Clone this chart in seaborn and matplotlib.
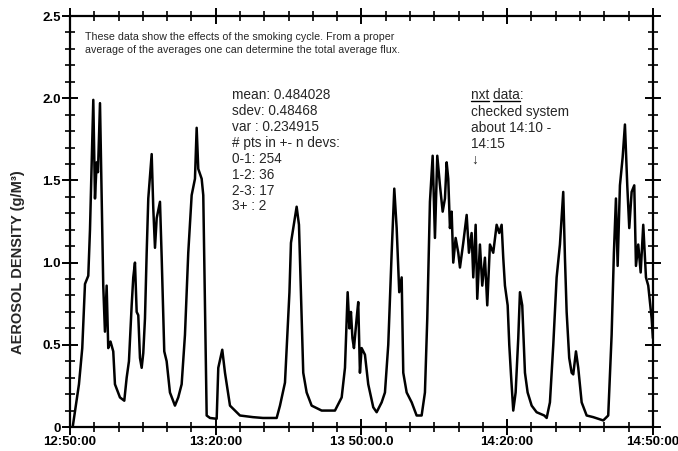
import matplotlib
matplotlib.use("Agg")
import matplotlib.pyplot as plt
import pandas as pd
import seaborn as sns
from matplotlib.lines import Line2D
from matplotlib.ticker import MultipleLocator

# minutes after 12:50:00
minutes = [
    0.56, 1.85, 2.53, 3.09, 3.77, 4.12, 4.80, 5.15, 5.50, 5.76, 6.18, 6.85,
    7.20, 7.55, 7.88, 8.34, 8.91, 9.26, 10.29, 11.18, 11.67, 12.14, 12.70,
    13.03, 13.38, 13.73, 14.06, 14.41, 14.76, 15.09, 15.44, 15.79, 16.12,
    16.82, 17.15, 17.50, 17.85, 18.53, 18.88, 19.41, 19.90, 20.58, 21.61,
    22.29, 22.99, 23.67, 24.35, 25.05, 25.73, 26.08, 26.41, 27.11, 27.44,
    28.14, 28.82, 30.20, 30.53, 31.35, 31.91, 32.94, 33.96, 34.99, 37.67,
    39.73, 42.55, 43.23, 44.26, 45.18, 45.49, 45.96, 46.66, 47.14, 47.69,
    48.02, 48.72, 49.75, 51.81, 54.55, 55.93, 56.61, 57.16, 57.53, 57.84,
    58.15, 58.46, 59.01, 59.34, 59.69, 60.04, 60.72, 61.40, 62.43, 63.13,
    64.16, 64.84, 65.52, 66.22, 66.76, 67.25, 67.78, 68.28, 68.61, 69.31,
    70.34, 71.36, 72.39, 73.07, 73.55, 74.10, 74.66, 75.13, 75.61, 76.16,
    76.72, 77.19, 77.54, 77.87, 78.22, 78.57, 78.90, 79.39, 79.93, 80.28,
    80.96, 81.66, 82.13, 82.68, 83.02, 83.51, 83.84, 84.39, 84.87, 85.42,
    85.90, 86.45, 87.13, 87.83, 88.37, 88.86, 89.19, 89.54, 90.10, 90.43,
    90.78, 91.25, 91.74, 92.28, 92.63, 93.10, 93.66, 94.21, 95.04, 96.06,
    97.63, 98.13, 98.80, 99.49, 100.18, 100.86, 101.54, 101.89, 102.24,
    102.77, 103.27, 103.60, 104.16, 104.63, 105.33, 106.36, 107.72, 109.78,
    110.80, 111.50, 111.97, 112.39, 112.74, 113.21, 113.77, 114.24, 114.72,
    115.13, 115.62, 116.16, 116.51, 116.98, 117.48, 118.01, 118.57, 119.04,
    119.74, 120.0,
]
density = [
    0.00, 0.26, 0.48, 0.87, 0.92, 1.20, 1.99, 1.39, 1.61, 1.55, 1.97, 0.86,
    0.58, 0.86, 0.48, 0.52, 0.46, 0.26, 0.18, 0.16, 0.30, 0.40, 0.74,
    0.91, 1.00, 0.70, 0.68, 0.42, 0.36, 0.45, 0.66, 1.06, 1.39,
    1.66, 1.33, 1.09, 1.27, 1.37, 1.03, 0.46, 0.40, 0.21, 0.13,
    0.18, 0.26, 0.56, 1.06, 1.41, 1.51, 1.82, 1.57, 1.51, 1.41,
    0.07, 0.055, 0.05, 0.36, 0.47, 0.33, 0.13, 0.10, 0.07, 0.06,
    0.055, 0.055, 0.13, 0.27, 0.82, 1.12, 1.21, 1.34, 1.23, 0.66,
    0.33, 0.21, 0.13, 0.10, 0.10, 0.18, 0.36, 0.82, 0.60, 0.70,
    0.54, 0.48, 0.66, 0.76, 0.33, 0.48, 0.44, 0.26, 0.12, 0.09,
    0.15, 0.21, 0.50, 1.06, 1.45, 1.21, 0.82, 0.91, 0.33, 0.21,
    0.15, 0.07, 0.07, 0.21, 0.66, 1.37, 1.65, 1.15, 1.65, 1.47,
    1.31, 1.39, 1.61, 1.51, 1.21, 1.31, 1.00, 1.15, 1.06, 0.97,
    1.12, 1.29, 1.06, 1.18, 0.91, 1.23, 0.78, 1.11, 0.86, 1.03,
    0.74, 1.11, 1.06, 1.23, 1.18, 1.23, 1.03, 0.86, 0.74, 0.50,
    0.32, 0.10, 0.21, 0.54, 0.82, 0.74, 0.33, 0.21, 0.13, 0.09,
    0.07, 0.055, 0.15, 0.50, 0.91, 1.11, 1.43, 1.03, 0.70,
    0.42, 0.33, 0.32, 0.46, 0.36, 0.15, 0.07, 0.06, 0.04,
    0.07, 0.56, 1.06, 1.39, 0.98, 1.47, 1.64, 1.84, 1.47,
    1.21, 1.43, 1.47, 0.98, 1.11, 0.94, 1.23, 0.91, 0.86,
    0.66, 0.54,
]

xtick_minutes = [0, 30, 60, 90, 120]
xtick_labels = ["12:50:00", "13:20:00", "13 50:00.0", "14:20:00", "14:50:00"]
ytick_values = [0, 0.5, 1.0, 1.5, 2.0, 2.5]
ytick_labels = ["0", "0.5", "1.0", "1.5", "2.0", "2.5"]

note_lines = [
    "These data show the effects of the smoking cycle. From a proper",
    "average of the averages one can determine the total average flux.",
]
stats_lines = [
    "mean: 0.484028",
    "sdev: 0.48468",
    "var : 0.234915",
    "# pts in +- n devs:",
    "0-1: 254",
    "1-2: 36",
    "2-3: 17",
    "3+ : 2",
]
check_head = "nxt data:"
check_lines = ["checked system", "about 14:10 -", "14:15", "\u2193"]

df = pd.DataFrame({"minutes": minutes, "density": density})

sns.set_theme(style="ticks")
plt.rcParams["font.family"] = ["Liberation Sans", "DejaVu Sans"]

fig = plt.figure(figsize=(6.78, 4.51), dpi=100)
ax = fig.add_axes([0.1032, 0.0532, 0.8598, 0.9113])

sns.lineplot(data=df, x="minutes", y="density", color="black",
             linewidth=1.8, ax=ax)

ax.set_xlim(0, 120)
ax.set_ylim(0, 2.5)
ax.set_xticks(xtick_minutes, xtick_labels)
ax.set_yticks(ytick_values, ytick_labels)
ax.xaxis.set_minor_locator(MultipleLocator(5))
ax.yaxis.set_minor_locator(MultipleLocator(0.1))
ax.tick_params(which="both", direction="inout", top=True, right=True,
               color="black", labelcolor="black")
ax.tick_params(which="major", length=11, width=1.4, labelsize=9.5, pad=1)
ax.tick_params(which="minor", length=7, width=1.2)
for lab in ax.get_xticklabels() + ax.get_yticklabels():
    lab.set_fontweight("bold")
for spine in ax.spines.values():
    spine.set_linewidth(1.6)
    spine.set_color("black")

ax.set_xlabel("")
ax.set_ylabel("AEROSOL DENSITY (g/M\u00b3)", fontsize=10.5, fontweight="bold")
ax.yaxis.set_label_coords(-0.077, 0.40)

ax.text(3.1, 2.405, "\n".join(note_lines), fontsize=7.7, va="top",
        linespacing=1.45)
ax.text(33.3, 2.06, "\n".join(stats_lines), fontsize=9.8, va="top",
        linespacing=1.17)
head = ax.text(82.5, 2.06, check_head, fontsize=9.8, va="top")
ax.text(82.5, 1.96, "\n".join(check_lines), fontsize=9.8, va="top",
        linespacing=1.17)

# underline "nxt" and "data" in the heading
fig.canvas.draw()
renderer = fig.canvas.get_renderer()
hb = head.get_window_extent(renderer)


def prefix_width(s):
    t = ax.text(0, 0, s, fontsize=9.8)
    w = t.get_window_extent(renderer).width
    t.remove()
    return w


for start, word in [("", "nxt"), ("nxt ", "data")]:
    x0 = hb.x0 + (prefix_width(start) if start else 0)
    x1 = hb.x0 + prefix_width(start + word)
    yline = hb.y0 + 1
    fig.add_artist(Line2D([x0, x1], [yline, yline], transform=None,
                          color="black", linewidth=1.0))

fig.savefig("out.png", dpi=100)
